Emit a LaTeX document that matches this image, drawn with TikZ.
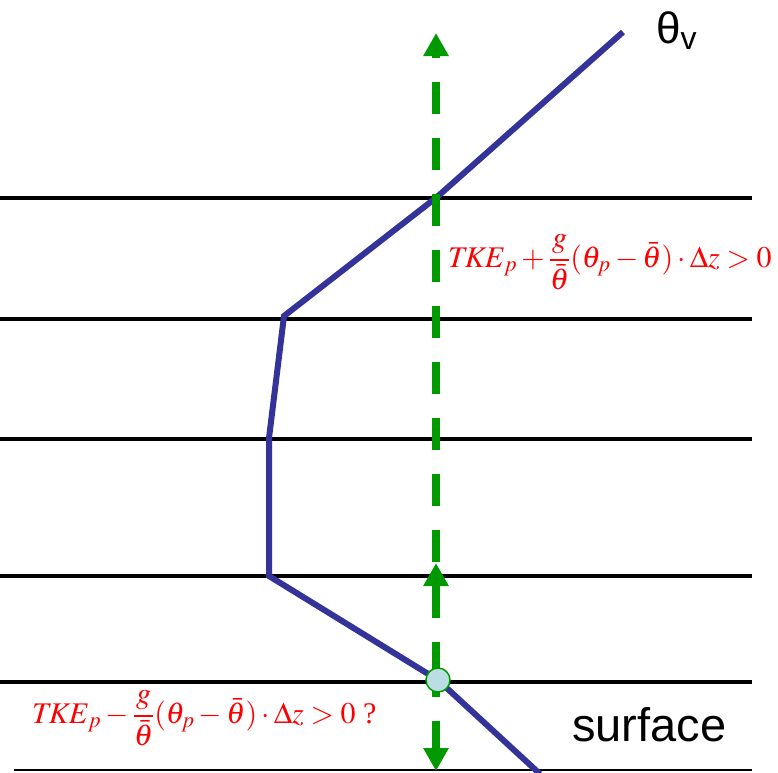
\documentclass[tikz,border=0pt]{standalone}
\usepackage{amsmath}
\usepackage{mathptmx}
\usepackage[no-math]{fontspec}
\setmainfont{Liberation Serif}
\newfontfamily\arial{Liberation Sans}
\usetikzlibrary{arrows.meta}
\definecolor{thetablue}{RGB}{51,51,153}
\definecolor{parcelgreen}{RGB}{0,153,0}
\definecolor{parcelfill}{RGB}{186,222,228}
\tikzset{
  layer/.style={line width=3.5pt, black},
  groundline/.style={line width=1.5pt, black},
  profile/.style={line width=6pt, thetablue, line join=miter},
  parcelpath/.style={line width=8pt, parcelgreen, dash pattern=on 32pt off 24pt,
     -{Triangle[width=24pt,length=23pt]}},
  parcel/.style={circle, draw=parcelgreen, line width=1.5pt, fill=parcelfill,
     minimum size=24pt, inner sep=0pt},
  eqn/.style={red, inner sep=0pt, font=\fontsize{30}{36}\selectfont},
}
\begin{document}
\begin{tikzpicture}[x=1pt,y=-1pt]
\useasboundingbox (0,0) rectangle (778,772);
% layer boundaries
\coordinate (L1a) at (0,198); \coordinate (L1b) at (752,198);
\coordinate (L2a) at (0,319); \coordinate (L2b) at (752,319);
\coordinate (L3a) at (0,439); \coordinate (L3b) at (752,439);
\coordinate (L4a) at (0,576); \coordinate (L4b) at (752,576);
\coordinate (L5a) at (0,682); \coordinate (L5b) at (752,682);
\coordinate (Ga) at (14,770); \coordinate (Gb) at (752,770);
\draw[layer] (L1a) -- (L1b);
\draw[layer] (L2a) -- (L2b);
\draw[layer] (L3a) -- (L3b);
\draw[layer] (L4a) -- (L4b);
\draw[layer] (L5a) -- (L5b);
\draw[groundline] (Ga) -- (Gb);
% theta_v profile
\coordinate (P0) at (623,32);
\coordinate (P1) at (437,197);
\coordinate (P2) at (284,316);
\coordinate (P3) at (269,438);
\coordinate (P4) at (269,576);
\coordinate (P5) at (438,680);
\coordinate (P6) at (540,774);
\draw[profile] (P0) -- (P1) -- (P2) -- (P3) -- (P4) -- (P5) -- (P6);
% parcel paths
\coordinate (start) at (436,680);
\coordinate (top) at (436,33);
\coordinate (mid) at (436,563);
\coordinate (bot) at (436,771);
\draw[parcelpath, dash phase=50pt] (start) -- (top);
\draw[parcelpath, dash phase=50pt] (start) -- (mid);
\draw[parcelpath, dash phase=15pt] (start) -- (bot);
\node[parcel] (parcel) at (438,680) {};
% labels
\node[anchor=base west, inner sep=0pt] (thv) at (656,43)
  {\arial\fontsize{44}{44}\selectfont θ\raisebox{-6pt}{\fontsize{32}{32}\selectfont v}};
\node[eqn, anchor=west] (equp) at (448,262)
  {$\mathit{TKE}_{p}+\dfrac{g}{\bar{\theta}}(\theta_{p}-\bar{\theta})\cdot\Delta z>0$};
\node[eqn, anchor=west] (eqdown) at (32,718)
  {$\mathit{TKE}_{p}-\dfrac{g}{\bar{\theta}}(\theta_{p}-\bar{\theta})\cdot\Delta z>0$ ?};
\node[anchor=base west, inner sep=0pt] (surf) at (572,741)
  {\arial\fontsize{47}{47}\selectfont surface};
\end{tikzpicture}
\end{document}
